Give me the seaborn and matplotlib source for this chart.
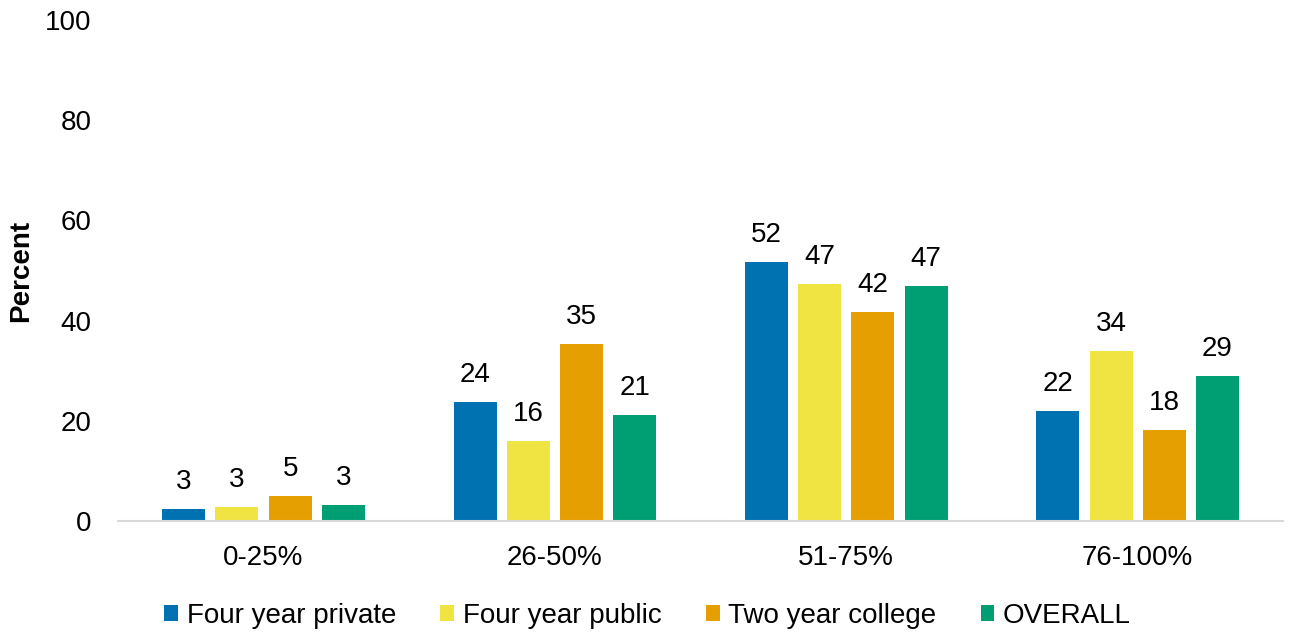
import matplotlib
matplotlib.use("Agg")
import matplotlib.pyplot as plt
import seaborn as sns
import pandas as pd
from matplotlib.patches import Patch

categories = ["0-25%", "26-50%", "51-75%", "76-100%"]
series = ["Four year private", "Four year public", "Two year college", "OVERALL"]
four_year_private = [2.4, 23.8, 51.7, 22.0]
four_year_public = [2.8, 16.0, 47.3, 33.9]
two_year_college = [5.0, 35.3, 41.7, 18.2]
overall = [3.2, 21.2, 46.9, 28.9]
labels = {
    "Four year private": ["3", "24", "52", "22"],
    "Four year public": ["3", "16", "47", "34"],
    "Two year college": ["5", "35", "42", "18"],
    "OVERALL": ["3", "21", "47", "29"],
}
colors = ["#0072B2", "#F0E442", "#E69F00", "#009E73"]
yticks = [0, 20, 40, 60, 80, 100]

rows = []
for s, vals in zip(series, [four_year_private, four_year_public, two_year_college, overall]):
    for c, v in zip(categories, vals):
        rows.append({"Category": c, "Series": s, "Value": v})
df = pd.DataFrame(rows)

sns.set_theme(style="white")
plt.rcParams["font.family"] = ["Liberation Sans", "DejaVu Sans"]

FS = 20
fig = plt.figure(figsize=(12.95, 6.35), dpi=100)
ax = fig.add_axes([0.091, 0.1795, 0.9, 0.789])

sns.barplot(data=df, x="Category", y="Value", hue="Series", order=categories,
            hue_order=series, palette=colors, width=0.73, gap=0.19,
            saturation=1, edgecolor="none", legend=False, ax=ax)

for cont, s in zip(ax.containers, series):
    ax.bar_label(cont, labels=labels[s], padding=10, fontsize=FS, color="#000000")

ax.set_ylim(0, 100)
ax.set_xlim(-0.5, 3.5)
ax.set_yticks(yticks)
ax.set_ylabel("Percent", fontsize=FS, fontweight="bold", color="#000000")
ax.yaxis.set_label_coords(-0.072, 0.5)
ax.set_xlabel("")
ax.tick_params(axis="y", labelsize=FS, pad=19, length=0, colors="#000000")
ax.tick_params(axis="x", labelsize=FS, pad=17, length=0, colors="#000000")
for side in ["top", "right", "left"]:
    ax.spines[side].set_visible(False)
ax.spines["bottom"].set_color("#D9D9D9")
ax.spines["bottom"].set_linewidth(1.5)
ax.grid(False)

handles = [Patch(facecolor=c, edgecolor="none", label=s) for c, s in zip(colors, series)]
fig.legend(handles=handles, loc="lower center", ncol=4, bbox_to_anchor=(0.5, -0.03),
           frameon=False, fontsize=FS, handlelength=0.5, handleheight=0.5,
           handletextpad=0.3, columnspacing=1.6, labelcolor="#000000")

fig.savefig("out.png", dpi=100)
